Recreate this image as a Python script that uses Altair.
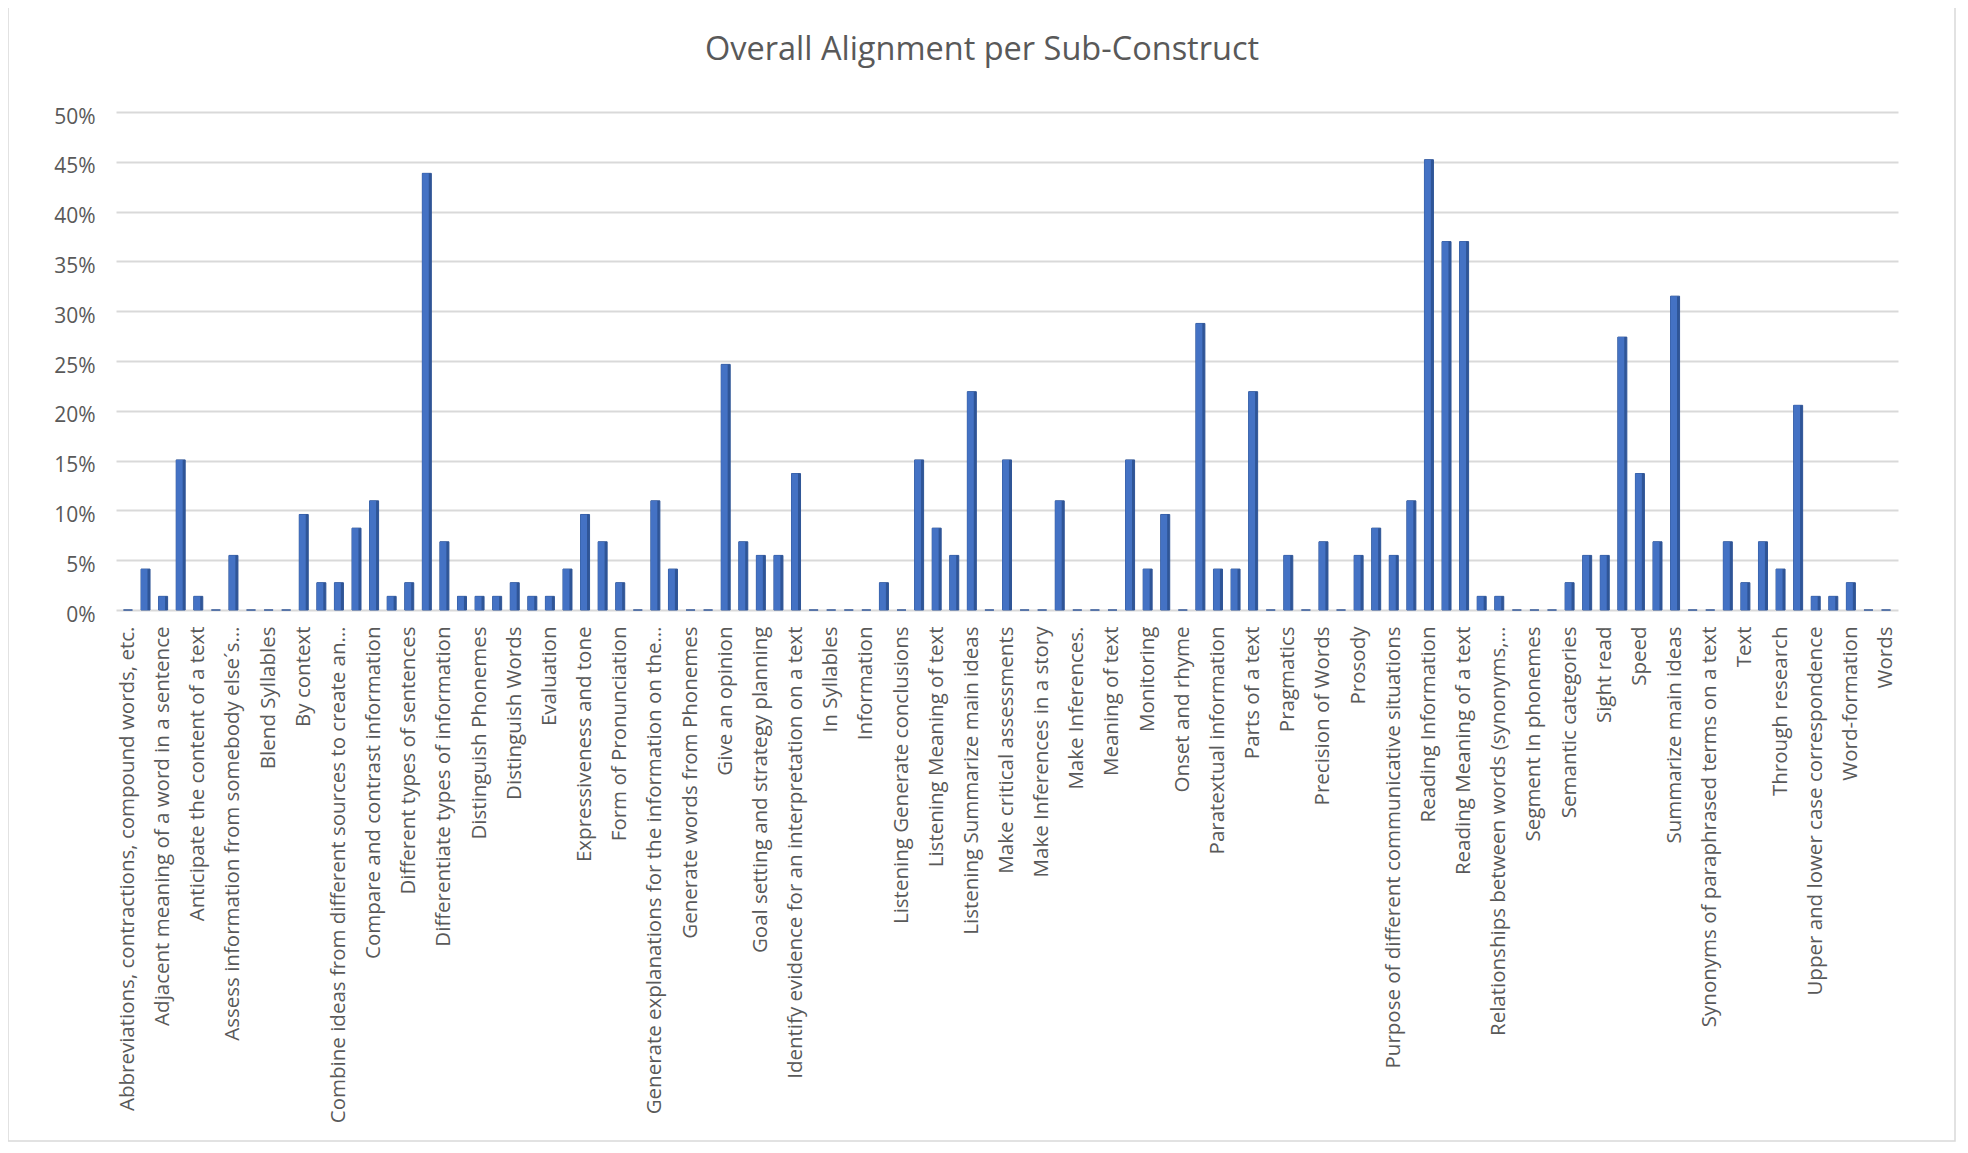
import json
import altair as alt
import pandas as pd

# ---- data ----
title_text = "Overall Alignment per Sub-Construct"

labels = [
    "Abbreviations, contractions, compound words, etc.",
    "Adjacent meaning of a word in a sentence",
    "Anticipate the content of a text",
    "Assess information from somebody else´s…",
    "Blend Syllables",
    "By context",
    "Combine ideas from different sources to create an…",
    "Compare and contrast information",
    "Different types of sentences",
    "Differentiate types of information",
    "Distinguish Phonemes",
    "Distinguish Words",
    "Evaluation",
    "Expressiveness and tone",
    "Form of Pronunciation",
    "Generate explanations for the information on the…",
    "Generate words from Phonemes",
    "Give an opinion",
    "Goal setting and strategy planning",
    "Identify evidence for an interpretation on a text",
    "In Syllables",
    "Information",
    "Listening Generate conclusions",
    "Listening Meaning of text",
    "Listening Summarize main ideas",
    "Make critical assessments",
    "Make Inferences in a story",
    "Make Inferences.",
    "Meaning of text",
    "Monitoring",
    "Onset and rhyme",
    "Paratextual information",
    "Parts of a text",
    "Pragmatics",
    "Precision of Words",
    "Prosody",
    "Purpose of different communicative situations",
    "Reading Information",
    "Reading Meaning of a text",
    "Relationships between words (synonyms,…",
    "Segment In phonemes",
    "Semantic categories",
    "Sight read",
    "Speed",
    "Summarize main ideas",
    "Synonyms of paraphrased terms on a text",
    "Text",
    "Through research",
    "Upper and lower case correspondence",
    "Word-formation",
    "Words",
]

# percentages for all 101 sub-constructs (only every other one is labelled)
values = [
    0, 4.11, 1.37, 15.07, 1.37, 0, 5.48, 0, 0, 0,
    9.59, 2.74, 2.74, 8.22, 10.96, 1.37, 2.74, 43.84, 6.85, 1.37,
    1.37, 1.37, 2.74, 1.37, 1.37, 4.11, 9.59, 6.85, 2.74, 0,
    10.96, 4.11, 0, 0, 24.66, 6.85, 5.48, 5.48, 13.70, 0,
    0, 0, 0, 2.74, 0, 15.07, 8.22, 5.48, 21.92, 0,
    15.07, 0, 0, 10.96, 0, 0, 0, 15.07, 4.11, 9.59,
    0, 28.77, 4.11, 4.11, 21.92, 0, 5.48, 0, 6.85, 0,
    5.48, 8.22, 5.48, 10.96, 45.21, 36.99, 36.99, 1.37, 1.37, 0,
    0, 0, 2.74, 5.48, 5.48, 27.40, 13.70, 6.85, 31.51, 0,
    0, 6.85, 2.74, 6.85, 4.11, 20.55, 1.37, 1.37, 2.74, 0,
    0,
]

y_ticks = [0, 5, 10, 15, 20, 25, 30, 35, 40, 45, 50]

df = pd.DataFrame({"idx": list(range(len(values))), "value": values})

FONT = "Open Sans"
TXT = "#595959"
PLOT_W, PLOT_H = 1782, 498
PAD_B = 535

label_array = json.dumps(labels, ensure_ascii=False)

x_enc = alt.X(
    "idx:O",
    scale=alt.Scale(paddingInner=0, paddingOuter=0.18),
    axis=alt.Axis(
        title=None,
        values=list(range(0, len(values), 2)),
        labelExpr=f"{label_array}[datum.value / 2]",
        labelAngle=270,
        labelFontSize=20.5,
        labelLimit=0,
        labelPadding=16,
        ticks=False,
        domain=False,
        grid=False,
    ),
)
y_enc = alt.Y(
    "value:Q",
    scale=alt.Scale(domain=[0, 50], nice=False),
    axis=alt.Axis(
        title=None,
        values=y_ticks,
        labelExpr="datum.value + '%'",
        labelFontSize=21,
        labelPadding=21,
        labelOffset=5,
        ticks=False,
        domain=False,
        grid=True,
        gridColor="#D9D9D9",
        gridWidth=2,
    ),
)

base = alt.Chart(df).encode(x=x_enc, y=y_enc)

side = base.mark_bar(width=9, color="#2F5597", stroke="#2F5597", strokeWidth=1)
front = base.mark_bar(width=6.5, xOffset=-1.3, color="#4472C4")

deco = alt.Chart(pd.DataFrame({"t": [title_text]}))

frame = deco.mark_rect(filled=False, stroke="#D9D9D9", strokeWidth=1.5).encode(
    x=alt.value(-108), x2=alt.value(1839), y=alt.value(-106), y2=alt.value(PLOT_H + PAD_B - 4)
)

title = deco.mark_text(
    font=FONT, fontSize=32.5, color=TXT, align="center", baseline="middle"
).encode(text="t:N", x=alt.value(866), y=alt.value(-62))

chart = (
    alt.layer(frame, side, front, title)
    .properties(
        width=PLOT_W,
        height=PLOT_H,
        autosize=alt.AutoSizeParams(type="none"),
        padding={"left": 108, "top": 104, "right": 62, "bottom": PAD_B},
    )
    .configure(background="white")
    .configure_view(stroke=None)
    .configure_axis(labelFont=FONT, labelColor=TXT)
)

chart.save("out.html", embed_options={"renderer": "svg", "actions": False})
